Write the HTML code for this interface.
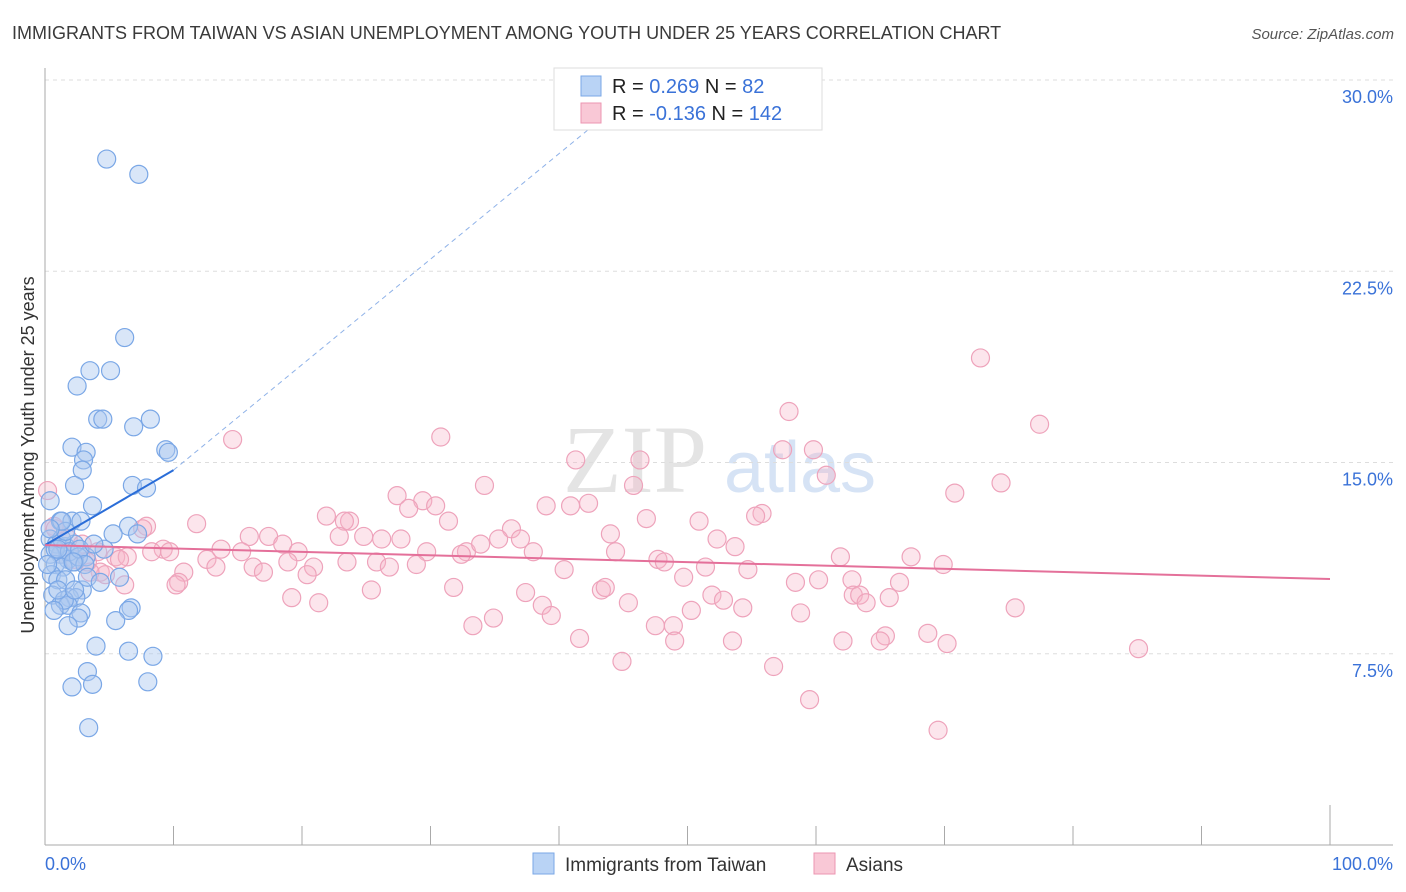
<!DOCTYPE html>
<html><head><meta charset="utf-8"><style>
body{margin:0;background:#fff;font-family:"Liberation Sans",sans-serif}
svg{display:block}
</style></head><body>
<svg id="chart" width="1406" height="892" xmlns="http://www.w3.org/2000/svg">
<text x="12" y="39" font-size="18" fill="#3a3a3a">IMMIGRANTS FROM TAIWAN VS ASIAN UNEMPLOYMENT AMONG YOUTH UNDER 25 YEARS CORRELATION CHART</text>
<text x="1394" y="39" font-size="15" fill="#555" font-style="italic" text-anchor="end">Source: ZipAtlas.com</text>
<text x="635" y="492" font-size="96" fill="#e4e4e4" font-family="Liberation Serif,serif" text-anchor="middle">ZIP</text>
<text x="800" y="492" font-size="72" fill="#d6e3f5" text-anchor="middle">atlas</text>
<g id="grid"></g>
<g id="axes"></g>
<g id="pts"></g>
<g id="trend"></g>
<text transform="translate(34,455) rotate(-90)" font-size="18" fill="#333" text-anchor="middle">Unemployment Among Youth under 25 years</text>
<g>
<rect x="554" y="68" width="268" height="62" fill="#fff" stroke="#ddd"/>
<rect x="581" y="76" width="20" height="20" fill="#b9d3f5" stroke="#7aa7e6"/>
<rect x="581" y="103" width="20" height="20" fill="#f9c8d6" stroke="#ec96b1"/>
<text x="612" y="93" font-size="20" fill="#222">R = <tspan fill="#3a72d8"> 0.269</tspan>   N = <tspan fill="#3a72d8">  82</tspan></text>
<text x="612" y="120" font-size="20" fill="#222">R = <tspan fill="#3a72d8">-0.136</tspan>   N = <tspan fill="#3a72d8">142</tspan></text>
</g>
<g>
<rect x="533" y="853" width="21" height="21" fill="#b9d3f5" stroke="#7aa7e6"/>
<text x="565" y="871" font-size="19" fill="#333">Immigrants from Taiwan</text>
<rect x="814" y="853" width="21" height="21" fill="#f9c8d6" stroke="#ec96b1"/>
<text x="846" y="871" font-size="19" fill="#333">Asians</text>
</g>
</svg>
<script>
const yTicks=[7.5,15,22.5,30];
const yTickLabels=["7.5%","15.0%","22.5%","30.0%"];
const xTickLabels=["0.0%","100.0%"];
const blueX=[4.8,7.3,6.2,3.5,5.1,2.5,4.1,4.5,8.2,6.9,2.1,3.2,9.4,9.6,3.0,2.9,2.3,6.8,7.9,0.4,3.7,1.2,2.1,2.8,6.5,5.3,7.2,0.4,0.9,1.6,2.3,1.2,0.4,1.8,3.2,0.8,2.3,1.4,0.5,1.0,1.6,5.8,2.9,0.6,1.9,2.4,1.2,1.8,1.5,6.7,6.5,2.8,2.6,1.8,5.5,3.97,6.5,8.4,3.3,2.1,3.7,8.0,3.4,0.8,0.2,1.3,1.9,2.6,2.7,1.0,3.1,1.6,3.3,4.3,2.3,0.7,1.3,0.4,4.6,2.2,1.0,3.8];
const blueY=[26.9,26.3,19.9,18.6,18.6,18.0,16.7,16.7,16.7,16.4,15.6,15.4,15.5,15.4,15.1,14.7,14.1,14.1,14.0,13.5,13.3,12.7,12.7,12.7,12.5,12.2,12.2,12.0,11.8,11.7,11.8,11.4,11.4,11.2,11.3,11.0,11.1,10.9,10.6,10.4,10.4,10.5,10.0,9.8,9.7,9.7,9.4,9.4,9.6,9.3,9.2,9.1,8.9,8.6,8.8,7.8,7.6,7.4,6.8,6.2,6.3,6.4,4.6,11.6,11.0,12.0,11.5,11.3,11.6,10.0,11.0,12.3,10.5,10.3,10.0,9.2,12.7,12.4,11.6,11.1,11.6,11.8];
const pinkX=[72.8,57.9,77.4,30.8,14.6,59.8,57.4,46.3,41.3,60.8,34.2,45.8,74.4,70.8,27.4,29.4,30.4,28.3,42.3,40.9,39.0,55.8,55.3,46.8,50.9,31.4,21.9,23.7,23.3,11.8,7.9,0.7,7.6,36.3,44.0,22.9,24.8,15.9,17.4,26.2,52.3,27.7,35.3,37.0,18.5,53.7,13.7,32.8,32.4,44.4,29.7,38.0,9.2,9.7,15.3,19.7,67.4,61.9,12.6,25.8,28.9,47.7,48.2,18.9,4.1,5.5,6.4,8.3,16.2,20.9,23.5,26.8,40.4,51.4,54.7,69.9,10.8,13.3,17.0,20.4,4.3,4.7,5.8,3.3,2.3,49.7,60.2,58.4,62.8,66.5,10.4,10.2,6.2,31.8,43.3,43.6,19.2,21.3,25.4,37.4,38.7,45.4,51.9,52.8,54.3,62.9,63.4,65.7,63.9,50.3,58.8,75.5,34.9,33.3,39.4,47.5,48.9,41.6,49.0,53.5,65.4,65.0,68.7,70.2,62.1,85.1,44.9,56.7,59.5,69.5,0.2,0.8,1.8,2.9,3.5,1.3,33.9];
const pinkY=[19.1,17.0,16.5,16.0,15.9,15.5,15.5,15.1,15.1,14.5,14.1,14.1,14.2,13.8,13.7,13.5,13.3,13.2,13.4,13.3,13.3,13.0,12.9,12.8,12.7,12.7,12.9,12.7,12.7,12.6,12.5,12.5,12.4,12.4,12.2,12.1,12.1,12.1,12.1,12.0,12.0,12.0,12.0,12.0,11.8,11.7,11.6,11.5,11.4,11.5,11.5,11.5,11.6,11.5,11.5,11.5,11.3,11.3,11.2,11.1,11.0,11.2,11.1,11.1,11.5,11.3,11.3,11.5,10.9,10.9,11.1,10.9,10.8,10.9,10.8,11.0,10.7,10.9,10.7,10.6,10.7,10.6,11.2,11.1,11.2,10.5,10.4,10.3,10.4,10.3,10.3,10.2,10.2,10.1,10.0,10.1,9.7,9.5,10.0,9.9,9.4,9.5,9.8,9.6,9.3,9.8,9.8,9.7,9.5,9.2,9.1,9.3,8.9,8.6,9.0,8.6,8.6,8.1,8.0,8.0,8.2,8.0,8.3,7.9,8.0,7.7,7.2,7.0,5.7,4.5,13.9,12.4,12.0,11.8,10.7,11.4,11.8];
const blueTrend=[11.76,14.7,28.6];   // values at x = 0, 10, 43.6
const blueTrendX=[0,10,43.6];
const pinkTrend=[11.76,10.43];
const pinkTrendX=[0,100];

const X0=45,X1=1330,Y0=845,PPY=25.5;
const sx=v=>X0+(X1-X0)*v/100;
const sy=v=>Y0-v*PPY;
const NS="http://www.w3.org/2000/svg";
function mk(t,a,p){const e=document.createElementNS(NS,t);for(const k in a)e.setAttribute(k,a[k]);p.appendChild(e);return e;}
const grid=document.getElementById('grid'),axes=document.getElementById('axes');
yTicks.forEach((t,i)=>{
 const l=mk('line',{x1:45,x2:1393,y1:sy(t),y2:sy(t),stroke:'#ddd','stroke-dasharray':'4,4'},grid);
 
 
 const tx=mk('text',{x:1393,y:sy(t)+23,'font-size':18,fill:'#3a72d8','text-anchor':'end'},axes);
 tx.textContent=yTickLabels[i];
 
 
});
mk('line',{x1:45,x2:45,y1:68,y2:845,stroke:'#aaa'},axes);
mk('line',{x1:45,x2:1393,y1:845,y2:845,stroke:'#aaa'},axes);
for(let i=0;i<=10;i++){const x=sx(i*10);const l=mk('line',{x1:x,x2:x,y1:i==10?805:826,y2:845,stroke:'#aaa'},axes);
 
 }
const xl0=mk('text',{x:45,y:870,'font-size':18,fill:'#3a72d8'},axes);xl0.textContent=xTickLabels[0];


const xl1=mk('text',{x:1393,y:870,'font-size':18,fill:'#3a72d8','text-anchor':'end'},axes);xl1.textContent=xTickLabels[1];


const pts=document.getElementById('pts');
pinkX.forEach((v,i)=>{const c=mk('circle',{cx:sx(v),cy:sy(pinkY[i]),r:9,fill:'rgba(246,180,200,0.35)',stroke:'#eea3bb','stroke-width':1.2},pts);
 
 });
blueX.forEach((v,i)=>{const c=mk('circle',{cx:sx(v),cy:sy(blueY[i]),r:9,fill:'rgba(170,200,240,0.45)',stroke:'#7aa7e6','stroke-width':1.2},pts);
 
 });
const tr=document.getElementById('trend');
const b1=mk('line',{x1:sx(blueTrendX[0]),y1:sy(blueTrend[0]),x2:sx(blueTrendX[1]),y2:sy(blueTrend[1]),stroke:'#2a6dd8','stroke-width':2},tr);


const b2=mk('line',{x1:sx(blueTrendX[1]),y1:sy(blueTrend[1]),x2:sx(blueTrendX[2]),y2:sy(blueTrend[2]),stroke:'#8fb2e8','stroke-width':1,'stroke-dasharray':'5,4'},tr);


const p1=mk('line',{x1:sx(pinkTrendX[0]),y1:sy(pinkTrend[0]),x2:sx(pinkTrendX[1]),y2:sy(pinkTrend[1]),stroke:'#e4709a','stroke-width':2},tr);


</script>
</body></html>
